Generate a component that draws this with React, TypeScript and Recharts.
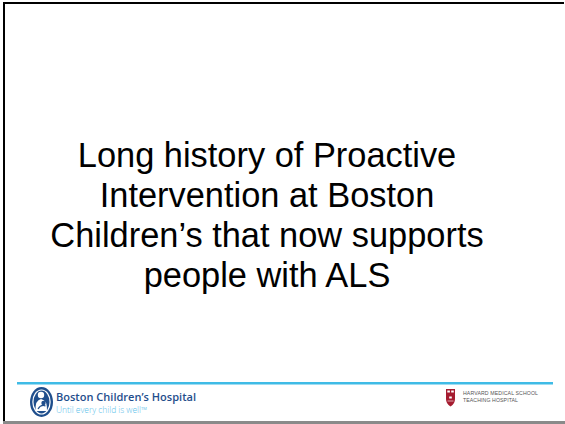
import React from 'react';
import { Surface, Rectangle, Text } from 'recharts';

// slide text
const titleLines = [
  'Long history of Proactive',
  'Intervention at Boston',
  'Children\u2019s that now supports',
  'people with ALS',
];
const hospitalName = ['Boston Children\u2019s Hospital'];
const hospitalTagline = ['Until every child is well\u2122'];
const harvardLines = ['HARVARD MEDICAL SCHOOL', 'TEACHING HOSPITAL'];

const W = 565;
const H = 424;
const TITLE_X = 267;
const TITLE_TOP = 166.5;
const TITLE_GAP = 40.3;

function BchLogo() {
  return (
    <g>
      <ellipse cx={41.5} cy={402} rx={11.5} ry={15} fill="#1f4e8c" />
      <ellipse cx={41.5} cy={402} rx={9.2} ry={12.6} fill="#ffffff" />
      <ellipse cx={41.5} cy={402} rx={8} ry={11.4} fill="#1f4e8c" />
      {/* mother and child, roughly */}
      <circle cx={41} cy={395} r={3.2} fill="#ffffff" />
      <path d="M35.5 411 Q35 400 41 399 Q47.5 400 47 411 Z" fill="#ffffff" />
      <circle cx={43.5} cy={403} r={2.2} fill="#1f4e8c" />
      <path d="M38 409 Q41 404 45.5 406" stroke="#1f4e8c" strokeWidth={1.2} fill="none" />
    </g>
  );
}

function HarvardShield() {
  return (
    <g>
      <path d="M446 389 L455 389 L455 399 Q455 404 450.5 406.5 Q446 404 446 399 Z" fill="#a51c30" />
      <rect x={447.3} y={390.5} width={2.6} height={2} fill="#ffffff" />
      <rect x={451.2} y={390.5} width={2.6} height={2} fill="#ffffff" />
      <rect x={449.2} y={396.5} width={2.6} height={2} fill="#ffffff" />
      <path d="M447.5 401 L453.5 401" stroke="#ffffff" strokeWidth={0.6} />
    </g>
  );
}

export default function App() {
  return (
    <div style={{ position: 'fixed', left: 0, top: 0, width: W, height: H, background: '#ffffff' }}>
      <Surface width={W} height={H}>
        <Rectangle x={0} y={0} width={W} height={H} fill="#ffffff" />
        {/* slide frame */}
        <Rectangle x={3} y={2} width={561} height={2} fill="#000000" />
        <Rectangle x={3} y={2} width={2} height={420} fill="#000000" />
        <Rectangle x={3} y={421} width={562} height={3} fill="#8a8a8a" />

        {titleLines.map((line, i) => (
          <Text
            key={line}
            x={TITLE_X}
            y={TITLE_TOP + i * TITLE_GAP}
            textAnchor="middle"
            verticalAnchor="end"
            fontFamily="'Liberation Sans', Arial, sans-serif"
            fontSize={34.4}
            fill="#000000"
          >
            {line}
          </Text>
        ))}

        {/* footer */}
        <Rectangle x={17} y={382} width={536} height={2.5} fill="#3fbbe6" />
        <BchLogo />
        <text
          x={56}
          y={400.8}
          fontFamily="'Open Sans', 'DejaVu Sans', sans-serif"
          fontWeight={600}
          fontSize={11}
          fill="#1f4e8c"
          textLength={140}
          lengthAdjust="spacingAndGlyphs"
        >
          {hospitalName[0]}
        </text>
        <text
          x={56}
          y={413}
          fontFamily="'Open Sans', 'DejaVu Sans', sans-serif"
          fontWeight={300}
          fontSize={8.6}
          fill="#5cc1ea"
          textLength={91}
          lengthAdjust="spacingAndGlyphs"
        >
          {hospitalTagline[0]}
        </text>

        <HarvardShield />
        {harvardLines.map((line, i) => (
          <text
            key={line}
            x={463}
            y={395.3 + i * 7}
            fontFamily="'Liberation Sans', Arial, sans-serif"
            fontSize={5.2}
            fill="#555555"
            textLength={i === 0 ? 75 : 55}
            lengthAdjust="spacing"
          >
            {line}
          </text>
        ))}
      </Surface>
    </div>
  );
}
